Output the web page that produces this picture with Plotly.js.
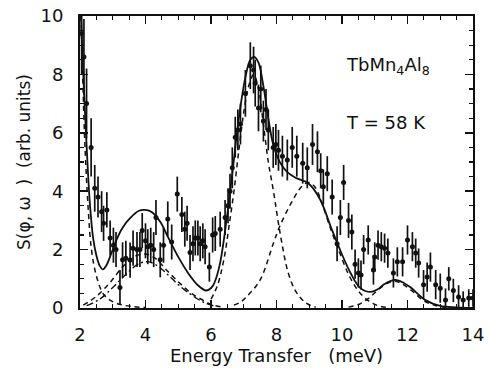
<!DOCTYPE html>
<html>
<head>
<meta charset="utf-8">
<script src="https://cdn.plot.ly/plotly-3.0.1.min.js"></script>
<style>html,body{margin:0;padding:0;background:#fff;}#chart{width:488px;height:368px;}</style>
</head>
<body>
<div id="chart"></div>
<script>
// Measured data points (energy transfer, intensity, error)
const dataX = [2.05,2.12,2.20,2.34,2.45,2.55,2.66,2.72,2.82,2.92,3.02,3.10,3.22,3.30,3.40,3.53,3.62,3.74,3.83,3.90,4.00,4.07,4.16,4.25,4.32,4.45,4.55,4.68,4.80,4.97,5.11,5.20,5.27,5.36,5.45,5.52,5.60,5.67,5.75,5.82,5.95,6.05,6.13,6.28,6.43,6.52,6.58,6.65,6.74,6.82,6.90,7.05,7.20,7.30,7.35,7.45,7.52,7.60,7.68,7.75,7.90,7.98,8.06,8.18,8.33,8.48,8.62,8.80,8.94,9.10,9.25,9.35,9.43,9.55,9.70,9.85,9.95,10.05,10.20,10.30,10.40,10.50,10.58,10.66,10.80,10.96,11.00,11.10,11.20,11.30,11.40,11.57,11.69,11.85,12.00,12.15,12.25,12.34,12.49,12.60,12.70,12.86,13.00,13.16,13.26,13.40,13.56,13.70,13.87,14.00];
const dataY = [9.4,8.6,7.0,5.5,4.1,3.8,3.3,2.9,3.36,2.4,2.15,2.0,0.7,1.65,1.7,1.64,2.05,2.0,2.0,2.65,2.3,2.1,2.15,2.0,3.1,1.65,2.15,3.05,2.26,3.9,3.2,2.7,2.9,1.9,2.2,2.4,2.4,2.2,2.3,2.1,1.4,2.5,2.55,2.7,3.1,3.5,4.0,4.8,5.85,6.1,6.3,7.35,8.3,8.15,7.7,6.85,7.5,6.4,6.8,6.1,5.5,5.6,5.4,5.2,5.07,5.5,5.2,4.96,4.8,5.6,5.35,4.7,4.15,4.6,3.8,2.2,3.1,4.3,3.0,2.6,1.5,1.2,1.13,2.0,2.33,1.3,1.75,2.15,2.1,2.05,1.88,1.2,1.58,1.58,2.33,2.1,1.88,1.54,0.8,1.06,1.4,0.8,0.68,0.27,1.0,0.6,0.38,0.27,0.34,0.34];
const dataErr = [1.4,1.3,1.2,1.0,0.8,0.7,0.7,0.6,0.6,0.6,0.6,0.6,0.6,0.6,0.6,0.6,0.6,0.6,0.6,0.6,0.6,0.6,0.6,0.6,0.6,0.6,0.6,0.6,0.6,0.6,0.6,0.6,0.6,0.6,0.6,0.6,0.6,0.6,0.6,0.6,0.5,0.6,0.6,0.6,0.6,0.6,0.6,0.7,0.7,0.7,0.7,0.8,0.8,0.8,0.8,0.8,0.8,0.7,0.7,0.7,0.7,0.7,0.7,0.7,0.7,0.7,0.7,0.7,0.7,0.7,0.7,0.6,0.6,0.6,0.6,0.6,0.6,0.6,0.6,0.6,0.5,0.5,0.5,0.5,0.5,0.5,0.5,0.5,0.5,0.5,0.5,0.5,0.5,0.5,0.5,0.5,0.5,0.5,0.5,0.5,0.5,0.5,0.5,0.4,0.4,0.4,0.4,0.3,0.3,0.3];

// Total fit (solid line)
const fitX = [2.03,2.10,2.20,2.30,2.40,2.50,2.60,2.70,2.80,2.95,3.10,3.30,3.55,3.80,4.00,4.20,4.45,4.70,5.00,5.30,5.60,5.85,6.05,6.25,6.45,6.65,6.85,7.05,7.20,7.32,7.45,7.60,7.75,7.90,8.10,8.33,8.60,8.97,9.34,9.65,9.90,10.26,10.56,10.87,11.10,11.30,11.63,11.90,12.10,12.55,13.00,13.50,14.00];
const fitY = [10.0,8.0,5.6,3.6,2.4,1.8,1.45,1.32,1.45,1.85,2.3,2.75,3.1,3.33,3.36,3.28,2.95,2.4,1.75,1.2,0.78,0.6,0.75,1.4,2.8,4.6,6.5,7.9,8.5,8.6,8.4,7.6,6.5,5.6,5.0,4.65,4.45,4.27,3.7,2.8,2.1,1.2,0.68,0.55,0.65,0.82,0.96,0.85,0.7,0.27,0.07,0.02,0.0];

// Components (dashed lines)
const qeX = [2.03,2.08,2.15,2.25,2.35,2.50,2.70,2.90,3.20,3.60,4.00];
const qeY = [10.0,8.0,5.6,3.4,2.0,1.1,0.5,0.28,0.13,0.05,0.02];
const c4aX = [2.10,2.50,2.90,3.30,3.70,4.00,4.30,4.60,5.00,5.40,5.70,6.00,6.30];
const c4aY = [0.10,0.40,0.85,1.40,1.78,1.85,1.70,1.35,0.90,0.50,0.30,0.12,0.04];
const c4bX = [2.20,2.60,3.00,3.40,3.80,4.10,4.40,4.70,5.00,5.40,5.80,6.10];
const c4bY = [0.08,0.30,0.70,1.15,1.52,1.58,1.42,1.12,0.80,0.45,0.18,0.07];
const c7X = [6.00,6.20,6.40,6.55,6.70,6.85,7.00,7.15,7.30,7.45,7.60,7.75,7.90,8.12,8.36,8.60,8.90,9.20];
const c7Y = [0.3,0.78,1.7,2.8,4.0,5.4,6.7,7.6,8.0,7.5,6.3,5.0,4.05,2.5,1.2,0.55,0.17,0.03];
const c9X = [6.70,6.90,7.10,7.50,7.90,8.10,8.50,8.80,9.00,9.20,9.40,9.65,9.90,10.20,10.50,10.80,11.10,11.40];
const c9Y = [0.1,0.2,0.4,0.96,2.2,2.8,3.7,4.2,4.3,4.1,3.55,2.72,1.98,1.15,0.58,0.25,0.08,0.02];
const c12X = [10.20,10.50,10.80,11.10,11.40,11.60,11.80,12.10,12.50,12.90,13.30];
const c12Y = [0.03,0.12,0.32,0.62,0.85,0.92,0.85,0.62,0.25,0.07,0.01];

const xTickVals = [2,4,6,8,10,12,14];
const yTickVals = [0,2,4,6,8,10];

const blk = '#111';
const FONT = 'DejaVu Sans, Liberation Sans, Arial, sans-serif';
const dashStyle = {color: blk, width: 1.5, dash: '5px,4px', shape: 'spline', smoothing: 1};

const traces = [
  {x: qeX, y: qeY, mode: 'lines', line: dashStyle, hoverinfo: 'skip'},
  {x: c4aX, y: c4aY, mode: 'lines', line: dashStyle, hoverinfo: 'skip'},
  {x: c4bX, y: c4bY, mode: 'lines', line: {color: blk, width: 1.4, dash: '7px,3px,2px,3px', shape: 'spline', smoothing: 1}, hoverinfo: 'skip'},
  {x: c7X, y: c7Y, mode: 'lines', line: dashStyle, hoverinfo: 'skip'},
  {x: c9X, y: c9Y, mode: 'lines', line: dashStyle, hoverinfo: 'skip'},
  {x: c12X, y: c12Y, mode: 'lines', line: dashStyle, hoverinfo: 'skip'},
  {x: dataX, y: dataY, mode: 'markers',
   marker: {color: blk, size: 5, symbol: 'circle'},
   error_y: {type: 'data', array: dataErr, visible: true, color: blk, thickness: 1.7, width: 0}},
  {x: fitX, y: fitY, mode: 'lines', line: {color: blk, width: 1.8, shape: 'spline', smoothing: 1}}
];

const axisCommon = {
  showgrid: false, zeroline: false, showline: true, linecolor: blk, linewidth: 2,
  mirror: 'ticks', ticks: 'inside', ticklen: 8, tickwidth: 1.5, tickcolor: blk,
  tickfont: {family: FONT, size: 18, color: blk},
  minor: {ticks: 'inside', ticklen: 4, tickwidth: 1.2, tickcolor: blk, dtick: 0.5, showgrid: false}
};

const layout = {
  width: 488, height: 368,
  margin: {l: 80, r: 15, t: 16, b: 60},
  paper_bgcolor: '#fff', plot_bgcolor: '#fff',
  showlegend: false,
  xaxis: Object.assign({}, axisCommon, {
    range: [2, 14], tickvals: xTickVals, ticktext: xTickVals.map(String),
    ticklabelstandoff: 9,
    title: {text: 'Energy Transfer\u00a0\u00a0\u00a0(meV)', font: {family: FONT, size: 18, color: blk}, standoff: 1}
  }),
  yaxis: Object.assign({}, axisCommon, {
    range: [0, 10], tickvals: yTickVals, ticktext: yTickVals.map(String),
    ticklabelstandoff: 11,
    title: {text: 'S(\u03c6, \u03c9\u00a0\u00a0)\u00a0\u00a0(arb. units)', font: {family: FONT, size: 17, color: blk}, standoff: 6}
  }),
  annotations: [
    {xref: 'paper', yref: 'paper', x: (344-80)/392.7, y: (308-66)/292, xanchor: 'left', yanchor: 'middle',
     text: 'TbMn<sub>4</sub>Al<sub>8</sub>', showarrow: false,
     font: {family: FONT, size: 18, color: blk}},
    {xref: 'paper', yref: 'paper', x: (344-80)/392.7, y: (308-122)/292, xanchor: 'left', yanchor: 'middle',
     text: 'T = 58 K', showarrow: false,
     font: {family: FONT, size: 18, color: blk}}
  ]
};

Plotly.newPlot('chart', traces, layout, {displayModeBar: false, staticPlot: true});
</script>
</body>
</html>
